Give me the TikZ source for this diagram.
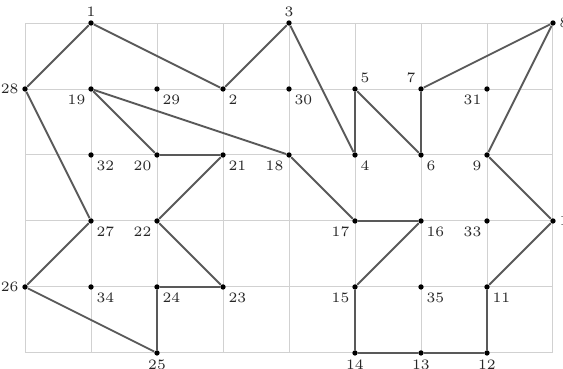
\documentclass[tikz,border=0pt]{standalone}
\begin{document}
\begin{tikzpicture}[x=1cm,y=1cm,
  dot/.style={circle,fill=black,inner sep=0pt,minimum size=2.3pt},
  every label/.style={font=\fontsize{6.2}{7}\selectfont,inner sep=1.3pt,text=black!85},
  edge/.style={draw=black!65,line width=0.8pt},
  gridline/.style={draw=black!18,line width=0.4pt}]
\useasboundingbox (-0.379,-0.242) rectangle (8.152,5.348);
\draw[gridline] (0,0) grid (8,5);
% points (grid units)
\node[dot,label=above:1] (p1) at (1,5) {};
\node[dot,label=below right:2] (p2) at (3,4) {};
\node[dot,label=above:3] (p3) at (4,5) {};
\node[dot,label=below right:4] (p4) at (5,3) {};
\node[dot,label=above right:5] (p5) at (5,4) {};
\node[dot,label=below right:6] (p6) at (6,3) {};
\node[dot,label=above left:7] (p7) at (6,4) {};
\node[dot,label=right:8] (p8) at (8,5) {};
\node[dot,label=below left:9] (p9) at (7,3) {};
\node[dot,label=right:10] (p10) at (8,2) {};
\node[dot,label=below right:11] (p11) at (7,1) {};
\node[dot,label=below:12] (p12) at (7,0) {};
\node[dot,label=below:13] (p13) at (6,0) {};
\node[dot,label=below:14] (p14) at (5,0) {};
\node[dot,label=below left:15] (p15) at (5,1) {};
\node[dot,label=below right:16] (p16) at (6,2) {};
\node[dot,label=below left:17] (p17) at (5,2) {};
\node[dot,label=below left:18] (p18) at (4,3) {};
\node[dot,label=below left:19] (p19) at (1,4) {};
\node[dot,label=below left:20] (p20) at (2,3) {};
\node[dot,label=below right:21] (p21) at (3,3) {};
\node[dot,label=below left:22] (p22) at (2,2) {};
\node[dot,label=below right:23] (p23) at (3,1) {};
\node[dot,label=below right:24] (p24) at (2,1) {};
\node[dot,label=below:25] (p25) at (2,0) {};
\node[dot,label=left:26] (p26) at (0,1) {};
\node[dot,label=below right:27] (p27) at (1,2) {};
\node[dot,label=left:28] (p28) at (0,4) {};
\node[dot,label=below right:29] (p29) at (2,4) {};
\node[dot,label=below right:30] (p30) at (4,4) {};
\node[dot,label=below left:31] (p31) at (7,4) {};
\node[dot,label=below right:32] (p32) at (1,3) {};
\node[dot,label=below left:33] (p33) at (7,2) {};
\node[dot,label=below right:34] (p34) at (1,1) {};
\node[dot,label=below right:35] (p35) at (6,1) {};
% polygon
\foreach \a/\b in {1/2,2/3,3/4,4/5,5/6,6/7,7/8,8/9,9/10,10/11,11/12,12/13,13/14,14/15,15/16,16/17,17/18,18/19,19/20,20/21,21/22,22/23,23/24,24/25,25/26,26/27,27/28,28/1}
  \draw[edge] (p\a) -- (p\b);
\end{tikzpicture}
\end{document}
